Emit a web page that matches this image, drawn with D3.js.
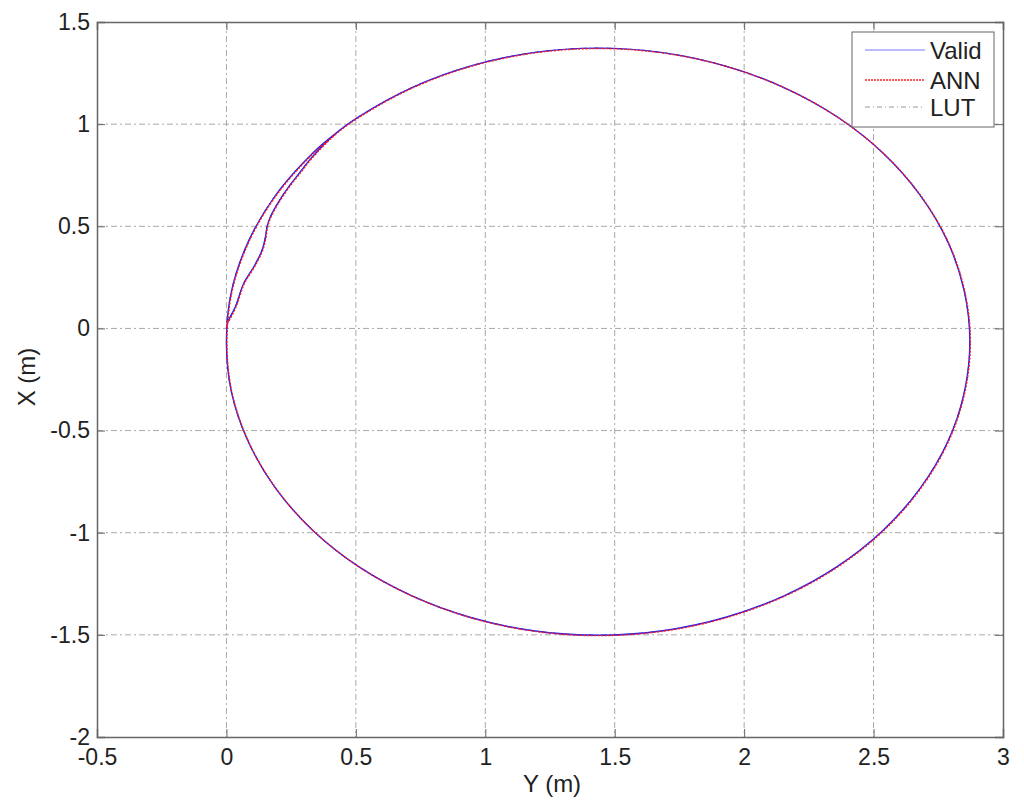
<!DOCTYPE html>
<html>
<head>
<meta charset="utf-8">
<script src="https://cdn.jsdelivr.net/npm/d3@7"></script>
<style>
  html, body { margin: 0; padding: 0; background: #fff; }
  svg text { font-family: "Liberation Sans", Arial, sans-serif; fill: #222; }
</style>
</head>
<body>
<svg id="chart" width="1024" height="810"></svg>
<script>
// ---- data ----
const xTicks = [-0.5, 0, 0.5, 1, 1.5, 2, 2.5, 3];
const yTicks = [-2, -1.5, -1, -0.5, 0, 0.5, 1, 1.5];
const seriesNames = ["Valid", "ANN", "LUT"];

// horizontal coordinate "Y (m)"
const validY = [0.000, 0.003, 0.009, 0.035, 0.067, 0.106, 0.138, 0.151, 0.157, 0.170, 0.202, 0.241, 0.286, 0.325, 0.419, 0.511, 0.717, 0.944, 1.185, 1.435, 1.685, 1.926, 2.154, 2.359, 2.536, 2.679, 2.786, 2.850, 2.872, 2.850, 2.786, 2.679, 2.536, 2.359, 2.154, 1.926, 1.685, 1.435, 1.185, 0.944, 0.717, 0.511, 0.334, 0.191, 0.085, 0.020, 0.000, 0.020, 0.085, 0.191, 0.334, 0.419];
// vertical coordinate "X (m)"
const validX = [0.000, 0.020, 0.042, 0.107, 0.221, 0.302, 0.384, 0.449, 0.498, 0.547, 0.621, 0.694, 0.767, 0.830, 0.951, 1.036, 1.179, 1.285, 1.350, 1.372, 1.350, 1.285, 1.179, 1.036, 0.859, 0.654, 0.426, 0.185, -0.065, -0.315, -0.556, -0.784, -0.989, -1.166, -1.309, -1.415, -1.480, -1.502, -1.480, -1.415, -1.309, -1.166, -0.989, -0.784, -0.556, -0.315, -0.065, 0.185, 0.426, 0.654, 0.859, 0.951];

const annY = [0.002, 0.001, 0.011, 0.037, 0.069, 0.108, 0.140, 0.153, 0.159, 0.172, 0.204, 0.243, 0.288, 0.327, 0.421, 0.513, 0.719, 0.946, 1.187, 1.437, 1.688, 1.929, 2.156, 2.361, 2.538, 2.681, 2.788, 2.852, 2.874, 2.852, 2.788, 2.681, 2.538, 2.361, 2.156, 1.928, 1.687, 1.437, 1.187, 0.946, 0.719, 0.513, 0.336, 0.193, 0.087, 0.022, 0.002, 0.022, 0.087, 0.193, 0.336, 0.421];
const annX = [0.008, 0.025, 0.040, 0.105, 0.219, 0.300, 0.382, 0.447, 0.496, 0.545, 0.619, 0.692, 0.765, 0.828, 0.949, 1.034, 1.177, 1.283, 1.348, 1.370, 1.348, 1.283, 1.177, 1.034, 0.857, 0.652, 0.424, 0.183, -0.067, -0.317, -0.558, -0.786, -0.991, -1.168, -1.311, -1.417, -1.482, -1.504, -1.482, -1.417, -1.311, -1.168, -0.991, -0.786, -0.558, -0.317, -0.067, 0.183, 0.424, 0.652, 0.857, 0.949];

const lutY = validY.slice();
const lutX = validX.slice();

// ---- layout ----
const svg = d3.select("#chart");
const mLeft = 97, mRight = 1003, mTop = 22, mBottom = 737;
const FONT = 23;

const x = d3.scaleLinear().domain([-0.5, 3]).range([mLeft, mRight]);
const y = d3.scaleLinear().domain([-2, 1.5]).range([mBottom, mTop]);

// grid
const gridDash = "6,3,2,3";
const grid = svg.append("g");
grid.selectAll("line.vx").data(xTicks.filter(t => t > -0.5 && t < 3)).enter().append("line")
  .attr("x1", d => x(d)).attr("x2", d => x(d)).attr("y1", mTop).attr("y2", mBottom)
  .attr("stroke", "#a8a8a8").attr("stroke-width", 1).attr("stroke-dasharray", gridDash);
grid.selectAll("line.hy").data(yTicks.filter(t => t > -2 && t < 1.5)).enter().append("line")
  .attr("y1", d => y(d)).attr("y2", d => y(d)).attr("x1", mLeft).attr("x2", mRight)
  .attr("stroke", "#a8a8a8").attr("stroke-width", 1).attr("stroke-dasharray", gridDash);

// axes
const fmt = d => String(d);
const xAxis = d3.axisBottom(x).tickValues(xTicks).tickSize(-8).tickPadding(12).tickFormat(fmt);
const yAxis = d3.axisLeft(y).tickValues(yTicks).tickSize(-8).tickPadding(7).tickFormat(fmt);
const gx = svg.append("g").attr("transform", `translate(0,${mBottom})`).call(xAxis);
const gy = svg.append("g").attr("transform", `translate(${mLeft},0)`).call(yAxis);
const gxTop = svg.append("g").attr("transform", `translate(0,${mTop})`).call(d3.axisTop(x).tickValues(xTicks).tickSize(-8).tickFormat(""));
const gyRight = svg.append("g").attr("transform", `translate(${mRight},0)`).call(d3.axisRight(y).tickValues(yTicks).tickSize(-8).tickFormat(""));
[gx, gy, gxTop, gyRight].forEach(g => {
  g.select(".domain").attr("stroke", "#666").attr("stroke-width", 1.5);
  g.selectAll(".tick line").attr("stroke", "#666");
  g.selectAll(".tick text").attr("font-size", FONT).attr("fill", "#222")
    .attr("font-family", "'Liberation Sans', Arial, sans-serif");
});

// axis labels
svg.append("text").attr("x", 552).attr("y", 792).attr("text-anchor", "middle")
  .attr("font-size", FONT + 1).text("Y (m)");
svg.append("text").attr("transform", `translate(35,377) rotate(-90)`).attr("text-anchor", "middle")
  .attr("font-size", FONT + 1).text("X (m)");

// lines
const line = d3.line().x(d => x(d[0])).y(d => y(d[1])).curve(d3.curveCatmullRom);
const lutPts = lutY.map((v, i) => [v, lutX[i]]);
const validPts = validY.map((v, i) => [v, validX[i]]);
const annPts = annY.map((v, i) => [v, annX[i]]);

const plot = svg.append("g");
plot.append("path").datum(lutPts).attr("d", line).attr("fill", "none")
  .attr("stroke", "#333").attr("stroke-width", 1).attr("stroke-dasharray", "5,3,1,3");
plot.append("path").datum(validPts).attr("d", line).attr("fill", "none")
  .attr("stroke", "#2020ff").attr("stroke-width", 1.4);
plot.append("path").datum(annPts).attr("d", line).attr("fill", "none")
  .attr("stroke", "#ff1a1a").attr("stroke-width", 1.4).attr("stroke-dasharray", "2,1.5");

// legend
const lg = svg.append("g");
lg.append("rect").attr("x", 852).attr("y", 32).attr("width", 142).attr("height", 95)
  .attr("fill", "#fff").attr("stroke", "#666").attr("stroke-width", 1);
const legStyles = [
  { stroke: "#7878ff", dash: null, w: 1.2 },
  { stroke: "#ff2020", dash: "2,1", w: 1.5 },
  { stroke: "#999", dash: "5,3,1,3", w: 1.2 }
];
const legY = [50, 80, 107];
seriesNames.forEach((name, i) => {
  const yy = legY[i];
  lg.append("line").attr("x1", 865).attr("x2", 925).attr("y1", yy).attr("y2", yy)
    .attr("stroke", legStyles[i].stroke).attr("stroke-width", legStyles[i].w)
    .attr("stroke-dasharray", legStyles[i].dash);
  lg.append("text").attr("x", 930).attr("y", yy + 8.5).attr("font-size", FONT + 1).text(name);
});
</script>
</body>
</html>
